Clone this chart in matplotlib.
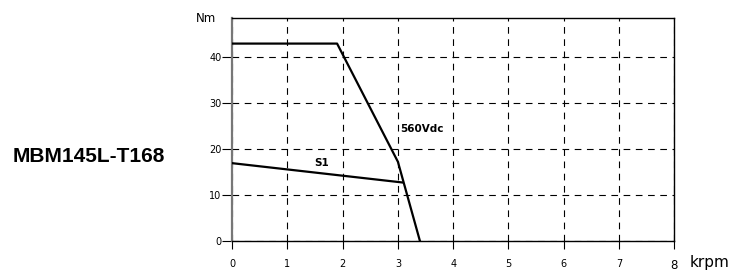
import matplotlib
matplotlib.use("Agg")
import matplotlib.pyplot as plt

# torque-speed data (krpm, Nm)
peak_speed = [0, 1.9, 3.0, 3.4]
peak_torque = [43.0, 43.0, 17.3, 0]
cont_speed = [0, 3.08]
cont_torque = [17.0, 12.8]

x_ticks = [0, 1, 2, 3, 4, 5, 6, 7, 8]
y_ticks = [0, 10, 20, 30, 40]
model = "MBM145L-T168"

fig = plt.figure(figsize=(7.39, 2.73), dpi=100)
ax = fig.add_axes([0.314, 0.116, 0.5985, 0.817])

ax.plot(peak_speed, peak_torque, color="black", linewidth=1.6, zorder=3)
ax.plot(cont_speed, cont_torque, color="black", linewidth=1.6, zorder=3)

ax.set_xlim(0, 8)
ax.set_ylim(0, 48.5)
ax.set_xticks(x_ticks)
ax.set_yticks(y_ticks)
ax.set_xticklabels([str(v) for v in x_ticks], fontsize=7)
ax.set_yticklabels([str(v) for v in y_ticks], fontsize=7)
ax.get_xticklabels()[-1].set_fontsize(8.5)
ax.tick_params(axis="y", length=7, width=0.8, pad=0.5)
ax.tick_params(axis="x", direction="out", length=6, width=0.8, pad=7)

ax.grid(True, color="black", linestyle=(0, (6, 5)), linewidth=0.8)
for s in ["top", "right", "bottom"]:
    ax.spines[s].set_linewidth(1.0)
ax.spines["left"].set_color("#777777")
ax.spines["left"].set_linewidth(1.6)

# labels
ax.text(1.035, -0.095, "krpm", transform=ax.transAxes, fontsize=11, ha="left", va="center")
ax.text(-0.035, 1.0, "Nm", transform=ax.transAxes, fontsize=8.5, ha="right", va="center")
ax.text(3.05, 24.5, "560Vdc", fontsize=7.5, fontweight="bold", ha="left", va="center")
ax.text(1.62, 17.0, "S1", fontsize=7.5, fontweight="bold", ha="center", va="center")

fig.text(0.0176, 0.425, model, fontsize=15, fontweight="bold",
         family="Liberation Sans", ha="left", va="center")

fig.savefig("out.png", dpi=100)
